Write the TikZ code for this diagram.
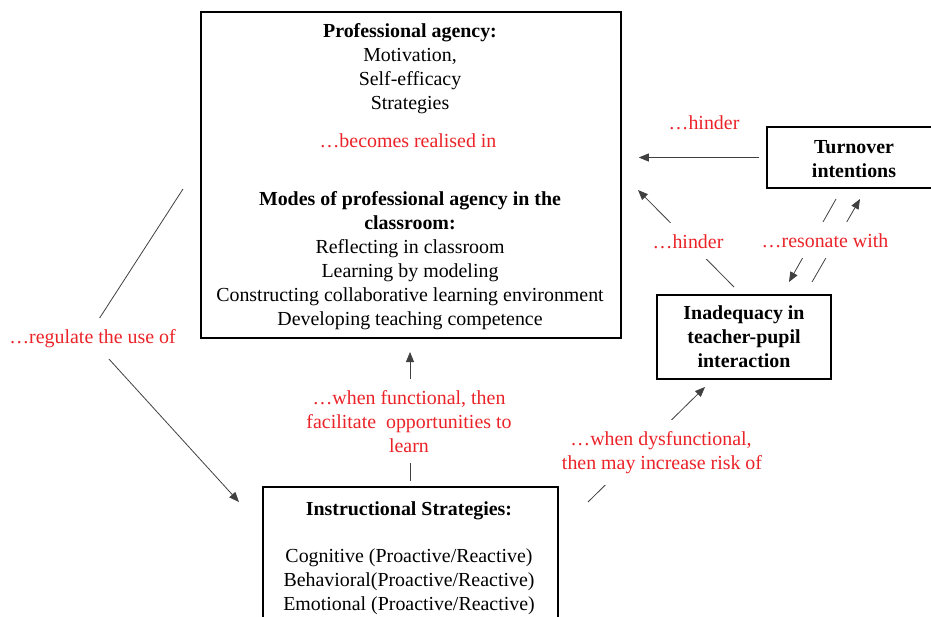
\documentclass[tikz,border=0pt]{standalone}
\usepackage{fontspec}
\setmainfont{Liberation Serif}
\usetikzlibrary{arrows.meta}
\definecolor{lblred}{RGB}{235,35,40}
\pgfdeclarelayer{lines}
\pgfdeclarelayer{mask}
\pgfsetlayers{lines,mask,main}
\begin{document}
\begin{tikzpicture}[x=1pt,y=-1pt,
  box/.style={draw=black,line width=1.5pt,fill=white,inner sep=0pt},
  txt/.style={anchor=base,inner sep=0pt,font=\fontsize{19.9pt}{24pt}\selectfont},
  bt/.style={txt,font=\fontsize{19.9pt}{24pt}\selectfont\bfseries},
  lbl/.style={txt,text=lblred,inner xsep=3pt,inner ysep=11pt},
  conn/.style={draw=black!75,line width=0.8pt},
  arr/.style={conn,-{Triangle[length=10pt,width=8pt]}}]
\useasboundingbox (0,0) rectangle (931,616);
\clip (0,0) rectangle (931,616);
% boxes
\node[box,minimum width=420pt,minimum height=326pt] (top) at (411,175) {};
\node[box,minimum width=174pt,minimum height=61pt] (turn) at (854,157.5) {};
\node[box,minimum width=174pt,minimum height=84pt] (inad) at (744,337) {};
\node[box,minimum width=295pt,minimum height=153pt] (instr) at (410.5,563.5) {};
% top box text
\node[bt] (pa) at (410,37) {Professional agency:};
\node[txt] (pa1) at (410,61) {Motivation,};
\node[txt] (pa2) at (410,85) {Self-efficacy};
\node[txt] (pa3) at (410,109) {Strategies};
\node[lbl] (real) at (408,147) {…becomes realised in};
\node[bt] (mo) at (410,205) {Modes of professional agency in the};
\node[bt] (mo0) at (410,229) {classroom:};
\node[txt] (mo1) at (410,253) {Reflecting in classroom};
\node[txt] (mo2) at (410,277) {Learning by modeling};
\node[txt] (mo3) at (410,301) {Constructing collaborative learning environment};
\node[txt] (mo4) at (410,325) {Developing teaching competence};
% turnover
\node[bt] (tu1) at (854,153) {Turnover};
\node[bt] (tu2) at (854,177) {intentions};
% inadequacy
\node[bt] (in1) at (744,319) {Inadequacy in};
\node[bt] (in2) at (744,343) {teacher-pupil};
\node[bt] (in3) at (744,367) {interaction};
% instructional
\node[bt] (is0) at (409,515) {Instructional Strategies:};
\node[txt] (is1) at (409,562) {Cognitive (Proactive/Reactive)};
\node[txt] (is2) at (409,586) {Behavioral(Proactive/Reactive)};
\node[txt] (is3) at (409,610) {Emotional (Proactive/Reactive)};
% labels
\node[txt,text=lblred] (hin1) at (704,129) {…hinder};
\node[lbl] (hin2) at (688,248) {…hinder};
\node[lbl] (res) at (825,247) {…resonate with};
\node[lbl] (reg) at (92.5,343) {…regulate the use of};
\node[lbl] (fu1) at (409,404) {…when functional, then};
\node[lbl] (fu2) at (409,428) {facilitate\ \ opportunities to};
\node[lbl] (fu3) at (409,452) {learn};
\node[lbl] (dy1) at (661,445) {…when dysfunctional,};
\node[lbl] (dy2) at (662,469) {then may increase risk of};
% white masks under the labels, above the connectors
\begin{pgfonlayer}{mask}
\foreach \n in {hin2,res,reg,fu1,fu2,fu3,dy1,dy2}
  \fill[white] (\n.south west) rectangle (\n.north east);
\end{pgfonlayer}
% connector end points
\coordinate (i1) at (734,287);
\coordinate (i2) at (638,190);
\coordinate (ra1) at (836,199);
\coordinate (ra2) at (789,282);
\coordinate (rb1) at (812,282);
\coordinate (rb2) at (860,199);
\coordinate (g1) at (183,189);
\coordinate (g2) at (88,336);
\coordinate (g3) at (239,502);
\coordinate (f1) at (410,481);
\coordinate (f2) at (410,352);
\coordinate (d1) at (588,502);
\coordinate (d2) at (705,387);
% connectors
\draw[arr] ([xshift=-7pt]turn.west) -- ([xshift=17pt]turn.west -| top.east);
\begin{pgfonlayer}{lines}
\draw[arr] (i1) -- (i2);
\draw[arr] (ra1) -- (ra2);
\draw[arr] (rb1) -- (rb2);
\draw[arr] (g1) -- (g2) -- (g3);
\draw[arr] (f1) -- (f2);
\draw[arr] (d1) -- (d2);
\end{pgfonlayer}
\end{tikzpicture}
\end{document}
